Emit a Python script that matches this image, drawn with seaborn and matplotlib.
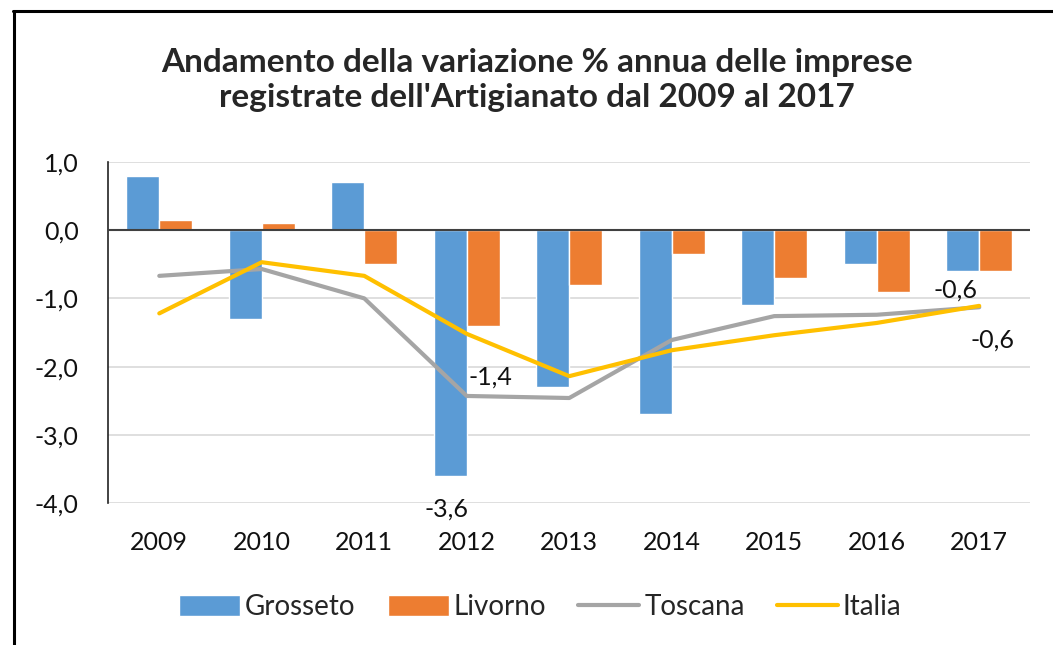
import numpy as np
import pandas as pd
import matplotlib
matplotlib.use("Agg")
import matplotlib.pyplot as plt
import matplotlib.ticker as mticker
from matplotlib.lines import Line2D
from matplotlib.patches import Patch
import seaborn as sns

# Data
anni = ["2009", "2010", "2011", "2012", "2013", "2014", "2015", "2016", "2017"]
grosseto = [0.8, -1.3, 0.7, -3.6, -2.3, -2.7, -1.1, -0.5, -0.6]
livorno = [0.15, 0.1, -0.5, -1.4, -0.8, -0.35, -0.7, -0.9, -0.6]
toscana = [-0.67, -0.57, -1.0, -2.43, -2.46, -1.61, -1.26, -1.24, -1.13]
italia = [-1.22, -0.47, -0.67, -1.52, -2.14, -1.76, -1.54, -1.36, -1.11]
yticks = [1.0, 0.0, -1.0, -2.0, -3.0, -4.0]

colori = {"Grosseto": "#5B9BD5", "Livorno": "#ED7D31",
          "Toscana": "#A5A5A5", "Italia": "#FFC000"}

sns.set_style("white")
plt.rcParams["font.family"] = ["Lato", "DejaVu Sans"]

def virgola(v):
    return f"{v:.1f}".replace(".", ",")

df = pd.DataFrame({
    "anno": anni * 2,
    "valore": grosseto + livorno,
    "serie": ["Grosseto"] * len(anni) + ["Livorno"] * len(anni),
})

fig = plt.figure(figsize=(10.53, 6.45), dpi=100)
ax = fig.add_axes([0.1026, 0.22, 0.876, 0.529])

sns.barplot(data=df, x="anno", y="valore", hue="serie",
            palette=[colori["Grosseto"], colori["Livorno"]],
            width=0.64, saturation=1, legend=False, ax=ax, zorder=2)

pos = np.arange(len(anni))
sns.lineplot(x=pos, y=toscana, color=colori["Toscana"], linewidth=3, ax=ax, zorder=3)
sns.lineplot(x=pos, y=italia, color=colori["Italia"], linewidth=3, ax=ax, zorder=4)

ax.set_xlim(-0.5, len(anni) - 0.5)
ax.set_ylim(-4, 1)
ax.set_yticks(yticks)
ax.yaxis.set_major_formatter(mticker.FuncFormatter(lambda v, p: virgola(v)))
ax.grid(axis="y", color="#D9D9D9", linewidth=1.2, zorder=0)
ax.set_axisbelow(True)
ax.axhline(0, color="#404040", linewidth=1.5, zorder=5)
for s in ["top", "right", "bottom"]:
    ax.spines[s].set_visible(False)
ax.spines["left"].set_color("#222222")
ax.spines["left"].set_linewidth(1.2)
ax.tick_params(axis="both", length=0, labelsize=18, labelcolor="#111111")
ax.tick_params(axis="x", pad=20)
ax.tick_params(axis="y", pad=21)
ax.set_xlabel("")
ax.set_ylabel("")

# data labels (offsets in points from the bar end)
i12 = anni.index("2012")
i17 = anni.index("2017")
etichette = [
    (i12 - 0.16, grosseto[i12], (-3, -24)),
    (i12 + 0.16, livorno[i12], (5, -37)),
    (i17 - 0.16, grosseto[i17], (-5, -14)),
    (i17 + 0.16, livorno[i17], (-2, -50)),
]
for x, y, off in etichette:
    ax.annotate(virgola(y), (x, y), xytext=off, textcoords="offset points",
                ha="center", va="center", fontsize=18, color="#111111", zorder=6)

fig.text(0.51, 0.876, "Andamento della variazione % annua delle imprese\nregistrate dell'Artigianato dal 2009 al 2017",
         ha="center", va="center", fontsize=24, fontweight="bold", linespacing=1.22)

handles = [Patch(facecolor=colori["Grosseto"]), Patch(facecolor=colori["Livorno"]),
           Line2D([], [], color=colori["Toscana"], linewidth=3),
           Line2D([], [], color=colori["Italia"], linewidth=3)]
fig.legend(handles, ["Grosseto", "Livorno", "Toscana", "Italia"], loc="center",
           bbox_to_anchor=(0.513, 0.059), ncol=4, frameon=False, fontsize=20,
           handlelength=2.2, handleheight=0.8, handletextpad=0.18, columnspacing=1.15)

# frame lines of the original screenshot
fig.add_artist(Line2D([0.012, 1.0], [0.983, 0.983], transform=fig.transFigure, color="black", linewidth=2.2))
fig.add_artist(Line2D([0.013, 0.013], [0.0, 0.983], transform=fig.transFigure, color="black", linewidth=2.2))

fig.savefig("out.png", dpi=100)
